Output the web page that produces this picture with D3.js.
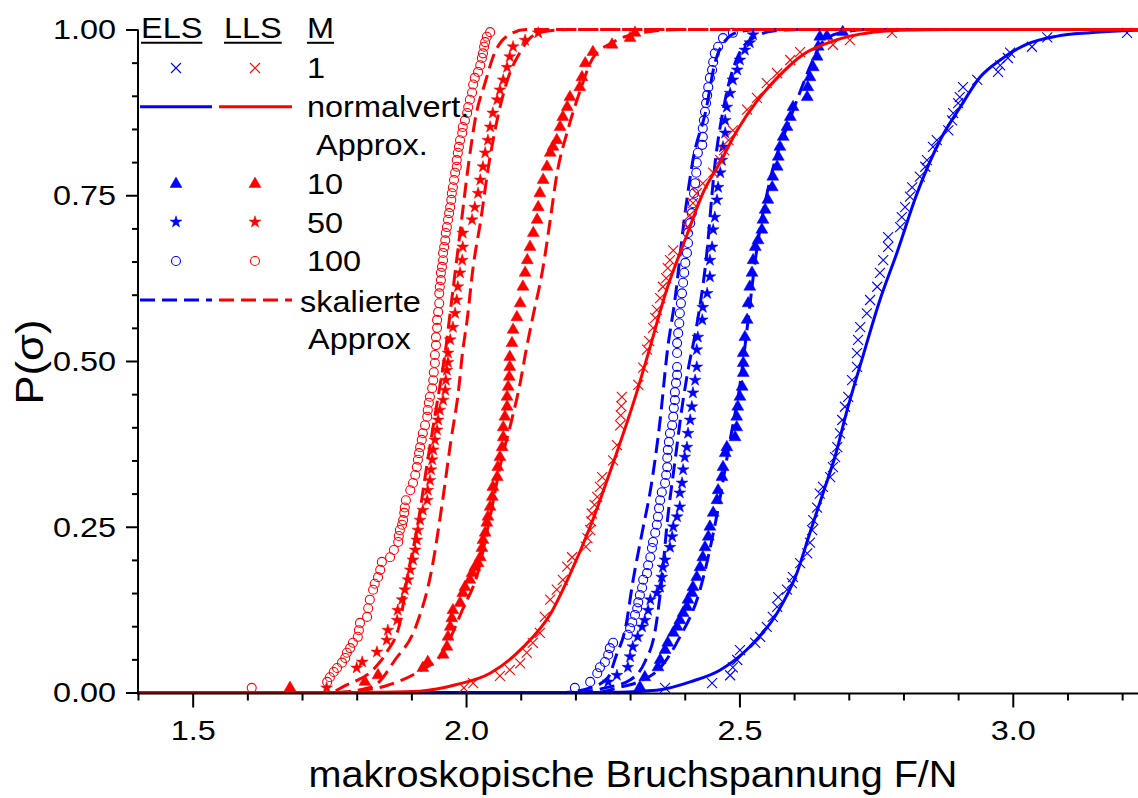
<!DOCTYPE html>
<html>
<head>
<meta charset="utf-8">
<script src="https://cdn.jsdelivr.net/npm/d3@7"></script>
<style>
  body { margin: 0; background: #fff; }
  svg text { font-family: Arial, "Liberation Sans", sans-serif; fill: #000; }
</style>
</head>
<body>
<svg id="chart" width="1138" height="798"></svg>
<script>
// Cumulative failure probability P(σ) versus macroscopic breaking stress F/N.
// ELS = equal load sharing (blue), LLS = local load sharing (red); M = bundle count.

// ---- empirical distributions: [stress, P] ----
const elsM1 = [[2.364,.007],[2.450,.014],[2.483,.026],[2.488,.038],[2.496,.049],[2.501,.064],[2.529,.075],[2.538,.084],[2.550,.099],[2.561,.114],[2.569,.129],[2.571,.144],[2.587,.155],[2.596,.165],[2.598,.174],[2.611,.195],[2.624,.210],[2.629,.226],[2.633,.245],[2.635,.260],[2.642,.279],[2.647,.300],[2.653,.310],[2.666,.325],[2.671,.340],[2.675,.355],[2.679,.370],[2.684,.391],[2.688,.411],[2.693,.431],[2.699,.446],[2.706,.471],[2.715,.491],[2.715,.512],[2.717,.532],[2.721,.551],[2.733,.572],[2.739,.592],[2.752,.612],[2.757,.633],[2.763,.652],[2.772,.672],[2.772,.687],[2.794,.702],[2.797,.717],[2.803,.732],[2.812,.748],[2.816,.762],[2.830,.778],[2.840,.793],[2.843,.803],[2.854,.823],[2.861,.833],[2.882,.848],[2.889,.863],[2.891,.874],[2.900,.889],[2.903,.898],[2.909,.913],[2.935,.924],[2.973,.936],[2.977,.946],[2.991,.957],[2.995,.965],[3.035,.974],[3.063,.988],[3.209,.995]];

const elsM10 = [[2.318,.008],[2.327,.023],[2.351,.038],[2.355,.049],[2.364,.064],[2.369,.075],[2.379,.090],[2.386,.099],[2.391,.109],[2.397,.120],[2.404,.129],[2.406,.140],[2.413,.150],[2.415,.159],[2.422,.174],[2.428,.189],[2.433,.204],[2.437,.219],[2.443,.235],[2.446,.250],[2.452,.271],[2.459,.290],[2.461,.305],[2.468,.325],[2.470,.340],[2.474,.361],[2.477,.370],[2.492,.385],[2.495,.400],[2.495,.416],[2.497,.431],[2.501,.446],[2.505,.461],[2.507,.482],[2.507,.497],[2.507,.512],[2.510,.536],[2.514,.562],[2.516,.587],[2.519,.612],[2.523,.633],[2.525,.652],[2.529,.672],[2.534,.682],[2.541,.698],[2.543,.713],[2.547,.728],[2.552,.743],[2.560,.762],[2.561,.778],[2.569,.793],[2.571,.808],[2.574,.823],[2.580,.838],[2.587,.853],[2.593,.868],[2.598,.883],[2.624,.898],[2.625,.913],[2.629,.928],[2.635,.943],[2.642,.959],[2.644,.974],[2.647,.989],[2.660,.990],[2.689,.996]];

const elsM50 = [[2.260,.016],[2.276,.026],[2.296,.038],[2.300,.054],[2.305,.069],[2.314,.084],[2.322,.099],[2.327,.109],[2.333,.124],[2.337,.140],[2.349,.150],[2.355,.159],[2.358,.174],[2.360,.189],[2.364,.200],[2.373,.219],[2.377,.235],[2.379,.250],[2.386,.265],[2.391,.280],[2.391,.301],[2.395,.316],[2.397,.336],[2.400,.355],[2.404,.370],[2.406,.391],[2.410,.411],[2.413,.431],[2.415,.452],[2.419,.471],[2.422,.491],[2.422,.517],[2.424,.536],[2.432,.562],[2.433,.581],[2.441,.602],[2.446,.627],[2.446,.652],[2.450,.672],[2.452,.698],[2.455,.717],[2.459,.743],[2.461,.762],[2.465,.784],[2.468,.803],[2.470,.823],[2.474,.844],[2.474,.863],[2.477,.883],[2.483,.904],[2.488,.924],[2.496,.939],[2.501,.954],[2.510,.969],[2.519,.980],[2.525,.992]];

const elsM100 = [[2.199,.007],[2.227,.016],[2.240,.029],[2.245,.038],[2.254,.046],[2.260,.057],[2.263,.067],[2.269,.075],[2.296,.087],[2.300,.097],[2.304,.106],[2.309,.117],[2.313,.127],[2.315,.136],[2.318,.147],[2.322,.158],[2.324,.170],[2.331,.180],[2.333,.192],[2.337,.204],[2.340,.218],[2.342,.227],[2.346,.241],[2.349,.253],[2.351,.265],[2.353,.278],[2.355,.290],[2.358,.302],[2.364,.316],[2.366,.328],[2.368,.340],[2.368,.354],[2.369,.366],[2.371,.378],[2.373,.391],[2.377,.403],[2.379,.416],[2.380,.429],[2.382,.441],[2.382,.453],[2.384,.467],[2.386,.479],[2.386,.491],[2.386,.512],[2.386,.527],[2.388,.542],[2.390,.557],[2.391,.572],[2.393,.587],[2.395,.602],[2.397,.618],[2.399,.633],[2.401,.648],[2.404,.663],[2.406,.678],[2.406,.693],[2.410,.708],[2.413,.723],[2.415,.738],[2.417,.753],[2.419,.768],[2.421,.784],[2.422,.799],[2.424,.814],[2.432,.826],[2.433,.838],[2.433,.851],[2.435,.863],[2.437,.876],[2.439,.889],[2.441,.901],[2.443,.913],[2.446,.927],[2.450,.939],[2.452,.951],[2.455,.964],[2.461,.974],[2.470,.987],[2.488,.995]];

const llsM1 = [[1.996,.007],[2.013,.014],[2.062,.025],[2.080,.034],[2.099,.044],[2.111,.060],[2.122,.075],[2.135,.090],[2.144,.114],[2.154,.140],[2.166,.155],[2.177,.170],[2.185,.190],[2.194,.204],[2.219,.220],[2.222,.233],[2.227,.245],[2.229,.258],[2.230,.270],[2.235,.283],[2.240,.295],[2.245,.310],[2.249,.325],[2.269,.350],[2.276,.373],[2.282,.403],[2.283,.418],[2.284,.432],[2.285,.446],[2.315,.464],[2.324,.490],[2.331,.517],[2.335,.530],[2.342,.550],[2.346,.565],[2.349,.577],[2.355,.595],[2.360,.612],[2.366,.625],[2.369,.640],[2.373,.652],[2.379,.667],[2.404,.702],[2.409,.720],[2.415,.738],[2.422,.753],[2.433,.768],[2.452,.784],[2.465,.803],[2.472,.818],[2.480,.833],[2.488,.848],[2.514,.879],[2.532,.897],[2.550,.919],[2.569,.934],[2.593,.954],[2.611,.966],[2.671,.977],[2.702,.984],[2.779,.995]];

const llsM10 = [[1.678,.007],[1.815,.016],[1.839,.026],[1.921,.037],[1.930,.046],[1.958,.057],[1.965,.069],[1.967,.084],[1.971,.099],[1.974,.112],[1.976,.124],[1.989,.135],[1.994,.150],[1.998,.159],[2.007,.170],[2.011,.180],[2.016,.189],[2.022,.195],[2.026,.204],[2.029,.218],[2.031,.230],[2.035,.241],[2.038,.256],[2.040,.265],[2.044,.280],[2.048,.295],[2.049,.310],[2.057,.325],[2.058,.340],[2.062,.355],[2.066,.370],[2.068,.385],[2.068,.400],[2.071,.416],[2.075,.431],[2.075,.446],[2.077,.461],[2.079,.476],[2.080,.491],[2.080,.506],[2.084,.527],[2.086,.547],[2.093,.566],[2.099,.587],[2.104,.612],[2.108,.633],[2.112,.652],[2.117,.672],[2.123,.693],[2.130,.713],[2.132,.732],[2.135,.753],[2.141,.773],[2.148,.793],[2.154,.814],[2.159,.823],[2.166,.833],[2.172,.853],[2.177,.868],[2.185,.883],[2.190,.898],[2.208,.913],[2.212,.928],[2.218,.949],[2.232,.966],[2.267,.977],[2.300,.987],[2.309,.995]];

const llsM50 = [[1.745,.007],[1.800,.037],[1.810,.046],[1.837,.061],[1.855,.079],[1.857,.094],[1.874,.109],[1.875,.124],[1.883,.140],[1.888,.155],[1.894,.170],[1.898,.185],[1.903,.200],[1.907,.215],[1.910,.230],[1.912,.245],[1.916,.260],[1.921,.275],[1.929,.290],[1.930,.305],[1.934,.320],[1.936,.336],[1.938,.351],[1.940,.366],[1.943,.381],[1.947,.396],[1.949,.411],[1.952,.426],[1.958,.441],[1.962,.456],[1.963,.471],[1.965,.486],[1.967,.498],[1.967,.512],[1.971,.532],[1.976,.551],[1.980,.572],[1.983,.592],[1.985,.612],[1.989,.633],[1.993,.652],[1.994,.672],[1.994,.693],[2.011,.713],[2.016,.732],[2.022,.753],[2.026,.773],[2.031,.793],[2.035,.814],[2.040,.833],[2.044,.853],[2.049,.874],[2.057,.894],[2.062,.909],[2.068,.924],[2.075,.943],[2.080,.959],[2.086,.974],[2.108,.984],[2.132,.995]];

const llsM100 = [[1.608,.007],[1.746,.016],[1.751,.023],[1.758,.031],[1.764,.037],[1.773,.045],[1.779,.052],[1.782,.060],[1.788,.067],[1.793,.075],[1.802,.084],[1.804,.094],[1.806,.105],[1.819,.114],[1.821,.127],[1.824,.140],[1.830,.155],[1.833,.164],[1.839,.174],[1.843,.185],[1.846,.197],[1.861,.204],[1.868,.215],[1.876,.227],[1.877,.236],[1.879,.245],[1.883,.253],[1.885,.260],[1.887,.271],[1.888,.279],[1.890,.290],[1.898,.305],[1.903,.316],[1.907,.328],[1.910,.340],[1.912,.351],[1.914,.361],[1.916,.370],[1.919,.381],[1.921,.391],[1.925,.403],[1.929,.416],[1.930,.426],[1.932,.437],[1.934,.446],[1.938,.459],[1.940,.471],[1.941,.483],[1.943,.497],[1.943,.509],[1.945,.524],[1.945,.536],[1.947,.550],[1.947,.562],[1.949,.574],[1.951,.587],[1.951,.602],[1.952,.612],[1.954,.622],[1.954,.633],[1.956,.642],[1.958,.652],[1.958,.663],[1.960,.672],[1.962,.682],[1.963,.693],[1.965,.702],[1.967,.713],[1.969,.723],[1.971,.732],[1.973,.743],[1.974,.753],[1.976,.762],[1.978,.773],[1.980,.784],[1.983,.793],[1.983,.803],[1.985,.814],[1.987,.823],[1.989,.833],[1.993,.844],[1.994,.853],[1.998,.863],[2.002,.874],[2.004,.883],[2.007,.894],[2.011,.905],[2.013,.917],[2.016,.927],[2.022,.936],[2.026,.946],[2.029,.957],[2.031,.964],[2.033,.974],[2.035,.981],[2.038,.989],[2.044,.996]];

// ---- normal-distribution approximations (M = 1) ----
const elsNormal = [[1.4,0],[2.2,0],[2.282,.0005],[2.313,.0015],[2.355,.004],[2.410,.016],[2.465,.034],[2.519,.069],[2.569,.12],[2.605,.18],[2.629,.241],[2.653,.301],[2.677,.362],[2.695,.42],[2.724,.502],[2.757,.592],[2.788,.663],[2.825,.753],[2.867,.833],[2.904,.883],[2.940,.928],[2.977,.954],[3.026,.978],[3.081,.990],[3.141,.995],[3.202,.998],[3.229,.999]];
const llsNormal = [[1.4,0],[1.80,0],[1.843,.0003],[1.916,.002],[1.983,.012],[2.044,.029],[2.104,.068],[2.154,.118],[2.190,.178],[2.227,.25],[2.269,.346],[2.313,.455],[2.331,.505],[2.368,.61],[2.404,.69],[2.433,.753],[2.465,.80],[2.496,.848],[2.532,.892],[2.569,.927],[2.616,.962],[2.666,.981],[2.702,.990],[2.744,.996],[2.794,.999],[2.885,1],[3.229,1]];

// ---- scaled approximations for M = 10, 50, 100 ----
const elsScaled10 = [[1.4,0],[2.236,0],[2.282,.008],[2.318,.017],[2.355,.037],[2.388,.079],[2.428,.155],[2.457,.26],[2.483,.381],[2.501,.464],[2.516,.562],[2.529,.652],[2.556,.773],[2.592,.864],[2.611,.906],[2.633,.951],[2.651,.98],[2.684,.995],[2.739,1],[3.229,1]];
const elsScaled50 = [[1.4,0],[2.199,0],[2.254,.007],[2.300,.019],[2.327,.046],[2.346,.094],[2.358,.17],[2.368,.257],[2.382,.348],[2.397,.441],[2.406,.486],[2.422,.554],[2.439,.652],[2.455,.795],[2.474,.894],[2.501,.966],[2.529,.989],[2.565,.998],[2.611,1],[3.229,1]];
const elsScaled100 = [[1.4,0],[2.172,0],[2.227,.007],[2.260,.023],[2.274,.054],[2.292,.099],[2.305,.167],[2.322,.241],[2.338,.309],[2.355,.411],[2.368,.514],[2.382,.592],[2.399,.713],[2.415,.803],[2.439,.879],[2.455,.949],[2.474,.983],[2.501,.997],[2.538,1],[3.229,1]];
const llsScaled10 = [[1.4,0],[1.760,0],[1.797,.002],[1.857,.011],[1.912,.031],[1.958,.061],[1.993,.124],[2.022,.182],[2.044,.265],[2.064,.348],[2.082,.406],[2.099,.467],[2.110,.517],[2.121,.562],[2.141,.642],[2.154,.713],[2.166,.781],[2.186,.848],[2.208,.906],[2.232,.957],[2.267,.98],[2.327,.996],[2.391,1],[3.229,1]];
const llsScaled50 = [[1.4,0],[1.760,0],[1.812,.005],[1.837,.013],[1.870,.049],[1.908,.099],[1.938,.189],[1.956,.283],[1.972,.378],[1.987,.461],[1.993,.509],[2.002,.562],[2.013,.642],[2.027,.713],[2.040,.788],[2.058,.868],[2.077,.927],[2.099,.966],[2.117,.987],[2.144,.997],[2.190,1],[3.229,1]];
const llsScaled100 = [[1.4,0],[1.751,0],[1.778,.01],[1.833,.037],[1.855,.061],[1.879,.105],[1.894,.18],[1.910,.245],[1.929,.346],[1.943,.417],[1.963,.52],[1.975,.6],[1.990,.7],[2.005,.8],[2.018,.87],[2.035,.92],[2.050,.96],[2.075,.99],[2.110,1],[3.229,1]];

// ---- axes ----
const xMajorTicks = [1.5, 2.0, 2.5, 3.0];
const xMinorTicks = [1.4,1.6,1.7,1.8,1.9,2.1,2.2,2.3,2.4,2.6,2.7,2.8,2.9,3.1,3.2];
const yMajorTicks = [0, 0.25, 0.5, 0.75, 1.0];
const yMinorTicks = [0.05,0.1,0.15,0.2,0.3,0.35,0.4,0.45,0.55,0.6,0.65,0.7,0.8,0.85,0.9,0.95];
const xTitle = "makroskopische Bruchspannung F/N";
const yTitle = "P(σ)";

const BLUE = "#0000ff", RED = "#ff0000";
const svg = d3.select("#chart");

const x = d3.scaleLinear().domain([1.4, 3.229]).range([138, 1138]);
const y = d3.scaleLinear().domain([0, 1]).range([692.5, 29.5]);

const line = d3.line().x(d => x(d[0])).y(d => y(d[1])).curve(d3.curveMonotoneX);

const triPath = d3.symbol(d3.symbolTriangle, 62)();
const starPath = d3.symbol(d3.symbolStar, 44)();
const crossPath = "M-5,-5L5,5M-5,5L5,-5";
const circleR = 4.5;

function drawMarkers(g, data, kind, color) {
  const grp = g.append("g");
  if (kind === "circle") {
    grp.selectAll("circle").data(data).join("circle")
      .attr("cx", d => x(d[0])).attr("cy", d => y(d[1])).attr("r", circleR)
      .attr("fill", "none").attr("stroke", color).attr("stroke-width", 1.1);
    return;
  }
  const path = kind === "cross" ? crossPath : kind === "triangle" ? triPath : starPath;
  grp.selectAll("path").data(data).join("path")
    .attr("d", path)
    .attr("transform", d => `translate(${x(d[0])},${y(d[1])})`)
    .attr("fill", kind === "cross" ? "none" : color)
    .attr("stroke", color)
    .attr("stroke-width", kind === "cross" ? 1.1 : 0.5);
}

function drawCurve(g, data, color, dashed) {
  g.append("path").datum(data).attr("d", line)
    .attr("fill", "none").attr("stroke", color).attr("stroke-width", 3)
    .attr("stroke-dasharray", dashed ? "15,7" : null);
}

const plot = svg.append("g");
// ELS (blue) first, LLS (red) on top
const gBlue = plot.append("g");
drawMarkers(gBlue, elsM1, "cross", BLUE);
drawMarkers(gBlue, elsM10, "triangle", BLUE);
drawMarkers(gBlue, elsM50, "star", BLUE);
drawMarkers(gBlue, elsM100, "circle", BLUE);
drawCurve(gBlue, elsScaled10, BLUE, true);
drawCurve(gBlue, elsScaled50, BLUE, true);
drawCurve(gBlue, elsScaled100, BLUE, true);
drawCurve(gBlue, elsNormal, BLUE, false);

const gRed = plot.append("g");
drawMarkers(gRed, llsM1, "cross", RED);
drawMarkers(gRed, llsM10, "triangle", RED);
drawMarkers(gRed, llsM50, "star", RED);
drawMarkers(gRed, llsM100, "circle", RED);
drawCurve(gRed, llsScaled10, RED, true);
drawCurve(gRed, llsScaled50, RED, true);
drawCurve(gRed, llsScaled100, RED, true);
drawCurve(gRed, llsNormal, RED, false);

// ---- axes ----
const axisG = svg.append("g");
const xAxisG = axisG.append("g").attr("transform", `translate(0,${y(0) + 1})`);
xAxisG.call(d3.axisBottom(x).tickValues(xMinorTicks).tickSize(7).tickSizeOuter(0).tickFormat(""));
xAxisG.call(g => g.select(".domain").remove());
const xMajor = axisG.append("g").attr("transform", `translate(0,${y(0) + 1})`)
  .call(d3.axisBottom(x).tickValues(xMajorTicks).tickSize(14).tickSizeOuter(0).tickFormat(d3.format(".1f")));
xMajor.select(".domain").attr("d", `M${x(1.4) - 1},0H${x.range()[1]}`);

const yAxisG = axisG.append("g").attr("transform", `translate(${x(1.4)},0)`);
yAxisG.call(d3.axisLeft(y).tickValues(yMinorTicks).tickSize(6).tickSizeOuter(0).tickFormat(""));
yAxisG.call(g => g.select(".domain").remove());
const yMajor = axisG.append("g").attr("transform", `translate(${x(1.4)},0)`)
  .call(d3.axisLeft(y).tickValues(yMajorTicks).tickSize(12).tickSizeOuter(0).tickFormat(d3.format(".2f")));
yMajor.select(".domain").attr("d", `M0,${y(1)}V${y(0) + 2}`);

axisG.selectAll(".domain, .tick line").attr("stroke", "#000").attr("stroke-width", 2);
axisG.selectAll(".tick text").attr("fill", "#000").style("font-size", "27px")
  .style("font-family", 'Arial, "Liberation Sans", sans-serif');
xMajor.selectAll(".tick text").attr("y", null).attr("dy", null)
  .attr("transform", "translate(0,46) scale(1.2,1)");
yMajor.selectAll(".tick text").attr("x", null).attr("dy", "0.35em")
  .attr("transform", "translate(-22,0) scale(1.2,1)");

// axis titles
svg.append("text").text(xTitle)
  .attr("text-anchor", "middle").style("font-size", "37px")
  .attr("transform", "translate(633,787) scale(1.07,1)");
svg.append("text").text(yTitle)
  .attr("text-anchor", "middle").style("font-size", "38px")
  .attr("transform", "translate(43,362) rotate(-90) scale(1.15,1)");

// ---- legend ----
const legend = svg.append("g");
const colBlue = 176, colRed = 255;
const lineSpan = { blue: [140, 212], red: [219, 292] };
function legendText(str, tx, ty, underline) {
  const t = legend.append("text").text(str).style("font-size", "29px")
    .attr("transform", `translate(${tx},${ty}) scale(1.12,1)`);
  if (underline) {
    const w = t.node().getComputedTextLength() * 1.12;
    legend.append("line").attr("x1", tx).attr("x2", tx + w)
      .attr("y1", ty + 4.5).attr("y2", ty + 4.5)
      .attr("stroke", "#000").attr("stroke-width", 2);
  }
}
legendText("ELS", 141, 38.3, true);
legendText("LLS", 224, 38.3, true);
legendText("M", 307, 38.3, true);

function legendMarker(kind, cx, cy, color) {
  if (kind === "circle") {
    legend.append("circle").attr("cx", cx).attr("cy", cy).attr("r", circleR)
      .attr("fill", "none").attr("stroke", color).attr("stroke-width", 1.1);
  } else {
    const path = kind === "cross" ? crossPath : kind === "triangle" ? triPath : starPath;
    legend.append("path").attr("d", path).attr("transform", `translate(${cx},${cy})`)
      .attr("fill", kind === "cross" ? "none" : color).attr("stroke", color)
      .attr("stroke-width", kind === "cross" ? 1.1 : 0.5);
  }
}
function legendLine(cy, color, span, dashed) {
  legend.append("line").attr("x1", span[0]).attr("x2", span[1]).attr("y1", cy).attr("y2", cy)
    .attr("stroke", color).attr("stroke-width", 3).attr("stroke-dasharray", dashed ? "15,7" : null);
}

legendMarker("cross", colBlue, 68, BLUE);
legendMarker("cross", colRed, 68, RED);
legendText("1", 307, 77.5);

legendLine(106.7, BLUE, lineSpan.blue, false);
legendLine(106.7, RED, lineSpan.red, false);
legendText("normalvert.", 307, 117);
legendText("Approx.", 316, 155);

legendMarker("triangle", colBlue, 184, BLUE);
legendMarker("triangle", colRed, 184, RED);
legendText("10", 307, 194.3);

legendMarker("star", colBlue, 222, BLUE);
legendMarker("star", colRed, 222, RED);
legendText("50", 307, 232.5);

legendMarker("circle", colBlue, 261, BLUE);
legendMarker("circle", colRed, 261, RED);
legendText("100", 307, 271);

legendLine(300, BLUE, lineSpan.blue, true);
legendLine(300, RED, lineSpan.red, true);
legendText("skalierte", 300, 311.5);
legendText("Approx", 308, 349);
</script>
</body>
</html>
